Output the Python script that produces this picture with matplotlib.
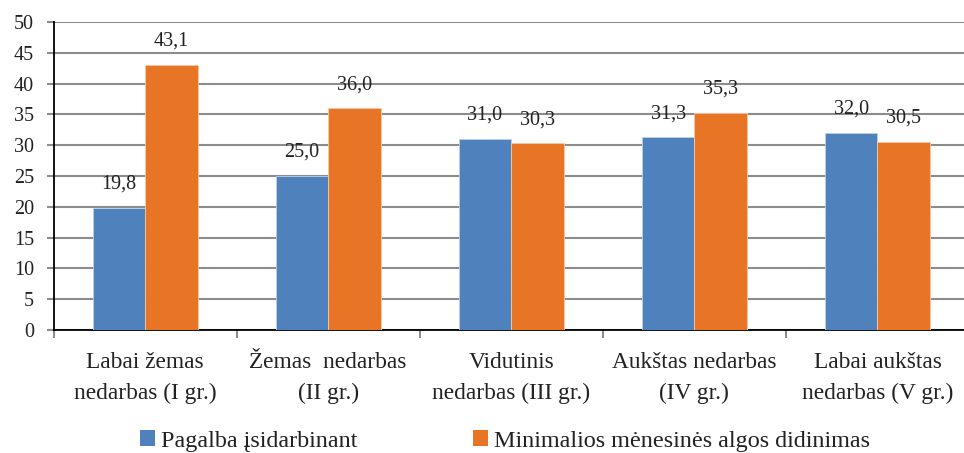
import matplotlib
matplotlib.use("Agg")
import matplotlib.pyplot as plt
import numpy as np
from matplotlib.patches import Patch

categories = ["Labai žemas\nnedarbas (I gr.)", "Žemas  nedarbas\n(II gr.)",
              "Vidutinis\nnedarbas (III gr.)", "Aukštas nedarbas\n(IV gr.)",
              "Labai aukštas\nnedarbas (V gr.)"]
series_names = ["Pagalba įsidarbinant", "Minimalios mėnesinės algos didinimas"]
pagalba = [19.8, 25.0, 31.0, 31.3, 32.0]
minimalios = [43.1, 36.0, 30.3, 35.3, 30.5]
yticks = [0, 5, 10, 15, 20, 25, 30, 35, 40, 45, 50]

plt.rcParams['font.family'] = ['Liberation Serif', 'DejaVu Serif']

W, H = 964, 453
fig = plt.figure(figsize=(W/100, H/100), dpi=100)
left, right, bottom, top = 53.5, 969, 330, 22
ax = fig.add_axes([left/W, (H-bottom)/H, (right-left)/W, (bottom-top)/H])

blue = "#4F81BD"
orange = "#E87426"
x = np.arange(len(categories))
bw = 0.287
ax.bar(x - bw/2, pagalba, bw, color=blue, edgecolor="#BCD0E8", linewidth=0.6, zorder=3)
ax.bar(x + bw/2, minimalios, bw, color=orange, edgecolor="#F7C9A6", linewidth=0.6, zorder=3)

def fmt(v):
    return f"{v:.1f}".replace('.', ',')

for xi, v in zip(x - bw/2, pagalba):
    ax.annotate(fmt(v), (xi, v), xytext=(0, 17), textcoords='offset points',
                ha='center', va='center', fontsize=14.5, color='#222222')
for xi, v in zip(x + bw/2, minimalios):
    ax.annotate(fmt(v), (xi, v), xytext=(0, 17), textcoords='offset points',
                ha='center', va='center', fontsize=14.5, color='#222222')

ax.set_xlim(-0.5, len(categories) - 0.5)
ax.set_ylim(0, 50)
ax.set_yticks(yticks)
ax.set_yticklabels([str(t) for t in yticks], fontsize=14.5, color='#222222')
ax.yaxis.grid(True, color='#8C8C8C', linewidth=1.5, zorder=0)
ax.set_axisbelow(True)

ax.set_xticks(np.arange(len(categories) + 1) - 0.5)
ax.set_xticklabels([])
ax.set_xticks(x, minor=True)
ax.set_xticklabels(categories, minor=True, fontsize=16.8, color='#222222', linespacing=1.62)
ax.tick_params(axis='x', which='major', length=6, color='#777777', width=1.2)
ax.tick_params(axis='x', which='minor', length=0, pad=16)
ax.tick_params(axis='y', length=5, color='#8C8C8C', width=1.5, pad=9)

for s in ['top', 'right']:
    ax.spines[s].set_visible(False)
ax.spines['left'].set_color('black')
ax.spines['bottom'].set_color('black')
ax.spines['left'].set_linewidth(1.3)
ax.spines['bottom'].set_linewidth(1.3)

handles = [Patch(facecolor=blue, label=series_names[0]),
           Patch(facecolor=orange, label=series_names[1])]
fig.legend(handles=handles, loc='center', bbox_to_anchor=(505/W, 1 - 441/H), ncol=2,
           frameon=False, fontsize=17.4, handlelength=0.62, handleheight=0.62,
           handletextpad=0.22, columnspacing=4.8, labelcolor='#222222')

fig.savefig("out.png", dpi=100)
